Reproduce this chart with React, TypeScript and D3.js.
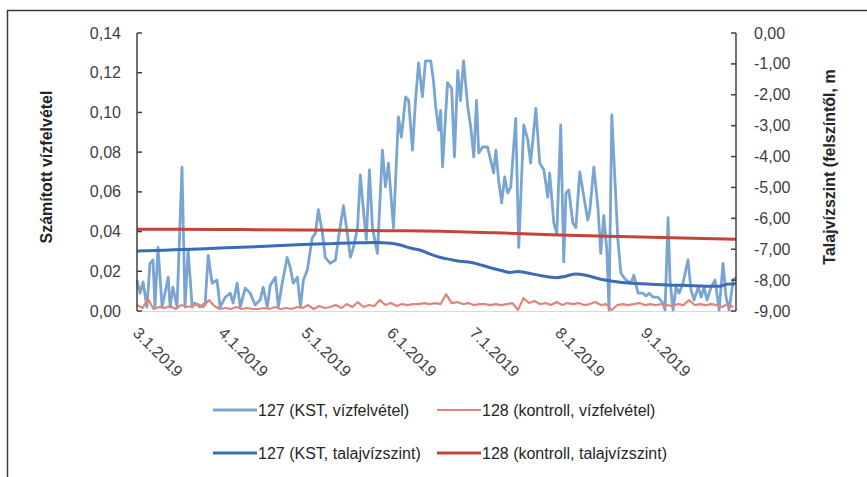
import React from "react";
import * as d3 from "d3";

// ---------- data ----------
const START = new Date(2019, 2, 1);
const END_DAY = 217;

// 127 (KST, vízfelvétel) – day of season, value
const kstUptakeDay = [
  0, 1.1, 2.2, 3.6, 4.7, 5.8, 6.5, 7.6, 9.1, 11.3,
  12, 13, 14.5, 16.3, 17.4, 18.5, 20, 21, 22.9, 24.7,
  25.8, 27.2, 29, 30.1, 32, 33.8, 34.8, 36.3, 37.4, 39.2,
  41, 42.8, 44.6, 45.7, 47.2, 48.3, 50.1, 51.2, 52.6, 54.4,
  55.5, 56.6, 58.1, 59.2, 60.3, 61.7, 63.5, 64.6, 65.7, 67.2,
  68.2, 70, 71.9, 73, 74.8, 76.2, 77.3, 78.4, 79.9, 80.9,
  82, 83.1, 84.2, 85.3, 87.1, 88.9, 90, 91.1, 92.9, 94.7,
  95.8, 97.3, 98.4, 99.8, 100.9, 102, 103.4, 104.5, 106.4, 107.4,
  108.2, 109.3, 110, 110.7, 112.5, 114, 115, 116.2, 117.2, 118.3,
  119.8, 120.9, 122, 123, 123.8, 125.2, 127, 128.1, 129.2, 130,
  131, 132.1, 133.2, 134.3, 135.4, 137.2, 138.3, 140.1, 141.6, 142.6,
  144.5, 145.9, 147.4, 148.8, 149.5, 151, 152.1, 153.5, 154.6, 155.4,
  156.4, 157.9, 159, 160.4, 161.9, 163.3, 164, 165.5, 167, 168,
  169.1, 170.2, 171, 172, 174.2, 175.3, 177.1, 179, 180, 181.5,
  183.3, 184.4, 185.5, 186.9, 188.7, 190.6, 191.3, 192.4, 193.1, 194.2,
  195.3, 196.4, 197.8, 199.6, 200.7, 201.8, 203.3, 204.4, 205.4, 206.5,
  208, 209.4, 210.9, 212.3, 213.4, 214.5, 216, 217,
];
const kstUptake = [
  0.0156, 0.009, 0.0146, 0.002, 0.024, 0.0257, 0.002, 0.032, 0.002, 0.017,
  0.002, 0.012, 0.002, 0.0725, 0.002, 0.031, 0.002, 0.004, 0.002, 0.004,
  0.028, 0.014, 0.0156, 0.002, 0.007, 0.009, 0.004, 0.014, 0.002, 0.0115,
  0.009, 0.003, 0.0055, 0.012, 0.002, 0.013, 0.017, 0.002, 0.014, 0.027,
  0.022, 0.014, 0.017, 0.002, 0.0156, 0.0206, 0.037, 0.039, 0.051, 0.039,
  0.027, 0.024, 0.0257, 0.037, 0.053, 0.039, 0.027, 0.032, 0.042, 0.0685,
  0.051, 0.036, 0.071, 0.042, 0.029, 0.081, 0.0625, 0.0745, 0.042, 0.0977,
  0.0876, 0.1078, 0.106, 0.081, 0.106, 0.125, 0.108, 0.126, 0.126, 0.116,
  0.103, 0.091, 0.101, 0.0725, 0.115, 0.112, 0.0776, 0.121, 0.106, 0.126,
  0.103, 0.0927, 0.0776, 0.106, 0.0796, 0.0826, 0.0826, 0.076, 0.0695, 0.081,
  0.066, 0.0544, 0.0675, 0.0594, 0.0625, 0.097, 0.032, 0.0937, 0.086, 0.0745,
  0.102, 0.0745, 0.071, 0.0574, 0.0695, 0.0443, 0.039, 0.0937, 0.0247, 0.0594,
  0.061, 0.0443, 0.042, 0.07, 0.0574, 0.0458, 0.05, 0.0725, 0.052, 0.029,
  0.048, 0.0307, 0.0005, 0.0987, 0.036, 0.019, 0.0156, 0.014, 0.018, 0.009,
  0.009, 0.0075, 0.009, 0.007, 0.007, 0.004, 0.0005, 0.047, 0.0156, 0.0005,
  0.012, 0.009, 0.014, 0.0257, 0.0106, 0.0055, 0.012, 0.007, 0.012, 0.0055,
  0.012, 0.0156, 0.0005, 0.024, 0.007, 0.0005, 0.0156, 0.017,
];

// 128 (kontroll, vízfelvétel) – every second day from day 0
const ctrlUptakeStep = 2;
const ctrlUptake = [
  0.003, 0.0015, 0.006, 0.001, 0.002, 0.0015, 0.0025, 0.001, 0.003, 0.002,
  0.0025, 0.0035, 0.002, 0.0055, 0.0025, 0.001, 0.0015, 0.001, 0.002, 0.001,
  0.0015, 0.001, 0.001, 0.0015, 0.001, 0.002, 0.001, 0.0015, 0.001, 0.002,
  0.0015, 0.003, 0.001, 0.0025, 0.0015, 0.002, 0.003, 0.0015, 0.0035, 0.002,
  0.0045, 0.002, 0.003, 0.0025, 0.0055, 0.003, 0.004, 0.0025, 0.0035, 0.003,
  0.0035, 0.0035, 0.004, 0.0035, 0.004, 0.0035, 0.0085, 0.004, 0.0045, 0.0035,
  0.004, 0.003, 0.0035, 0.0035, 0.003, 0.0035, 0.003, 0.0035, 0.004, 0.0005,
  0.0065, 0.004, 0.005, 0.0035, 0.004, 0.003, 0.0045, 0.003, 0.004, 0.0035,
  0.004, 0.003, 0.0035, 0.0045, 0.003, 0.0035, 0.0005, 0.003, 0.0035, 0.003,
  0.0035, 0.004, 0.003, 0.0035, 0.003, 0.0035, 0.003, 0.0025, 0.0035, 0.003,
  0.0055, 0.003, 0.0035, 0.003, 0.0035, 0.003, 0.002, 0.0035, 0.002,
];

// 127 (KST, talajvízszint)
const kstLevelDay = [0, 10, 20, 30, 40, 50, 60, 70, 80, 86, 92, 96, 99, 103, 106, 110, 114, 117, 121, 125, 128, 132, 135, 138, 141, 146, 152, 155, 159, 163, 168, 175, 186, 197, 204, 211, 214, 217];
const kstLevel = [-7.06, -7.03, -7.0, -6.96, -6.93, -6.89, -6.85, -6.82, -6.79, -6.78, -6.81, -6.88, -6.96, -7.04, -7.15, -7.27, -7.34, -7.39, -7.43, -7.52, -7.6, -7.69, -7.75, -7.72, -7.76, -7.85, -7.92, -7.88, -7.8, -7.85, -7.97, -8.07, -8.13, -8.17, -8.19, -8.2, -8.13, -8.12];

// 128 (kontroll, talajvízszint)
const ctrlLevelDay = [0, 30, 60, 90, 110, 130, 150, 170, 190, 217];
const ctrlLevel = [-6.35, -6.36, -6.38, -6.4, -6.42, -6.47, -6.53, -6.58, -6.62, -6.68];

const leftTicks = [0, 0.02, 0.04, 0.06, 0.08, 0.1, 0.12, 0.14];
const rightTicks = [0, -1, -2, -3, -4, -5, -6, -7, -8, -9];

const legendLabels = [
  "127 (KST, vízfelvétel)",
  "128 (kontroll, vízfelvétel)",
  "127 (KST, talajvízszint)",
  "128 (kontroll, talajvízszint)",
];
const seriesColors = ["#78a5d2", "#e0857b", "#3b6db6", "#c4443a"];
const seriesWidths = [2.8, 2.2, 3, 3];

const leftTitle = "Számított vízfelvétel";
const rightTitle = "Talajvízszint (felszíntől, m";

// ---------- chart ----------
const W = 867;
const H = 477;
const PL = 137, PR = 736, PT = 33, PB = 311;
const FONT = "'Liberation Sans', Arial, sans-serif";

const dayToDate = (d: number) => new Date(START.getTime() + d * 86400000);
const locale = d3.formatLocale({ decimal: ",", thousands: " ", grouping: [3], currency: ["", ""], minus: "-" });
const fmt2 = locale.format(".2f");
const dateFmt = d3.timeFormat("%-m.%-d.%Y");

export default function App() {
  const x = d3.scaleTime().domain([START, dayToDate(END_DAY)]).range([PL, PR]);
  const yL = d3.scaleLinear().domain([0, 0.14]).range([PB, PT]);
  const yR = d3.scaleLinear().domain([-9, 0]).range([PB, PT]);

  const lineL = d3.line<[number, number]>().x((d) => x(dayToDate(d[0]))).y((d) => yL(d[1]));
  const lineR = d3
    .line<[number, number]>()
    .x((d) => x(dayToDate(d[0])))
    .y((d) => yR(d[1]))
    .curve(d3.curveMonotoneX);

  const s1 = kstUptakeDay.map((d, i) => [d, kstUptake[i]] as [number, number]);
  const s2 = ctrlUptake.map((v, i) => [i * ctrlUptakeStep, v] as [number, number]);
  const s3 = kstLevelDay.map((d, i) => [d, kstLevel[i]] as [number, number]);
  const s4 = ctrlLevelDay.map((d, i) => [d, ctrlLevel[i]] as [number, number]);

  const monthTicks = d3.timeMonth.range(START, dayToDate(END_DAY)).filter((d) => d.getMonth() <= 8);

  const legendPos = [
    { lx: 213, ty: 410 },
    { lx: 437, ty: 410 },
    { lx: 213, ty: 453 },
    { lx: 437, ty: 453 },
  ];

  return (
    <svg
      width={W}
      height={H}
      style={{ position: "absolute", left: 0, top: 0, background: "#fff" }}
      fontFamily={FONT}
    >
      <rect x={0} y={0} width={W} height={H} fill="#fff" />
      {/* frame */}
      <path d={`M7.5,${H} V10.5 H${W}`} fill="none" stroke="#3a3a3a" strokeWidth={1.5} />

      {/* x baseline */}
      <line x1={PL} x2={PR} y1={PB + 0.5} y2={PB + 0.5} stroke="#d9d9d9" strokeWidth={1} />

      {/* series */}
      <path d={lineL(s1) || ""} fill="none" stroke={seriesColors[0]} strokeWidth={seriesWidths[0]} strokeLinejoin="round" />
      <path d={lineL(s2) || ""} fill="none" stroke={seriesColors[1]} strokeWidth={seriesWidths[1]} strokeLinejoin="round" />
      <path d={lineR(s3) || ""} fill="none" stroke={seriesColors[2]} strokeWidth={seriesWidths[2]} strokeLinejoin="round" />
      <path d={lineR(s4) || ""} fill="none" stroke={seriesColors[3]} strokeWidth={seriesWidths[3]} strokeLinejoin="round" />

      {/* left axis */}
      <line x1={PL} x2={PL} y1={PT} y2={PB} stroke="#404040" strokeWidth={1.5} />
      {leftTicks.map((t) => (
        <g key={"l" + t}>
          <line x1={PL} x2={PL + 5} y1={yL(t)} y2={yL(t)} stroke="#404040" strokeWidth={1.5} />
          <text x={121} y={yL(t)} dy="0.35em" textAnchor="end" fontSize={16} fill="#404040">
            {fmt2(t)}
          </text>
        </g>
      ))}
      <text
        transform={`translate(46,${(PT + PB) / 2 - 5}) rotate(-90)`}
        textAnchor="middle"
        dy="0.35em"
        fontSize={16}
        fontWeight="bold"
        fill="#262626"
      >
        {leftTitle}
      </text>

      {/* right axis */}
      <line x1={PR} x2={PR} y1={PT} y2={PB} stroke="#404040" strokeWidth={1.5} />
      {rightTicks.map((t) => (
        <g key={"r" + t}>
          <line x1={PR - 5} x2={PR} y1={yR(t)} y2={yR(t)} stroke="#404040" strokeWidth={1.5} />
          <text x={754} y={yR(t)} dy="0.35em" textAnchor="start" fontSize={16} fill="#404040">
            {fmt2(t)}
          </text>
        </g>
      ))}
      <text
        transform={`translate(829,${(PT + PB) / 2 - 5}) rotate(-90)`}
        textAnchor="middle"
        dy="0.35em"
        fontSize={16}
        fontWeight="bold"
        fill="#262626"
      >
        {rightTitle}
      </text>

      {/* x tick labels */}
      {monthTicks.map((d) => (
        <text
          key={d.toISOString()}
          transform={`translate(${x(d) - 5},334) rotate(45)`}
          textAnchor="start"
          fontSize={16}
          fill="#404040"
        >
          {dateFmt(d)}
        </text>
      ))}

      {/* legend */}
      {legendLabels.map((lab, i) => (
        <g key={lab}>
          <line
            x1={legendPos[i].lx}
            x2={legendPos[i].lx + 44}
            y1={legendPos[i].ty}
            y2={legendPos[i].ty}
            stroke={seriesColors[i]}
            strokeWidth={seriesWidths[i]}
          />
          <text x={legendPos[i].lx + 45} y={legendPos[i].ty} dy="0.35em" fontSize={16} fill="#262626">
            {lab}
          </text>
        </g>
      ))}
    </svg>
  );
}
